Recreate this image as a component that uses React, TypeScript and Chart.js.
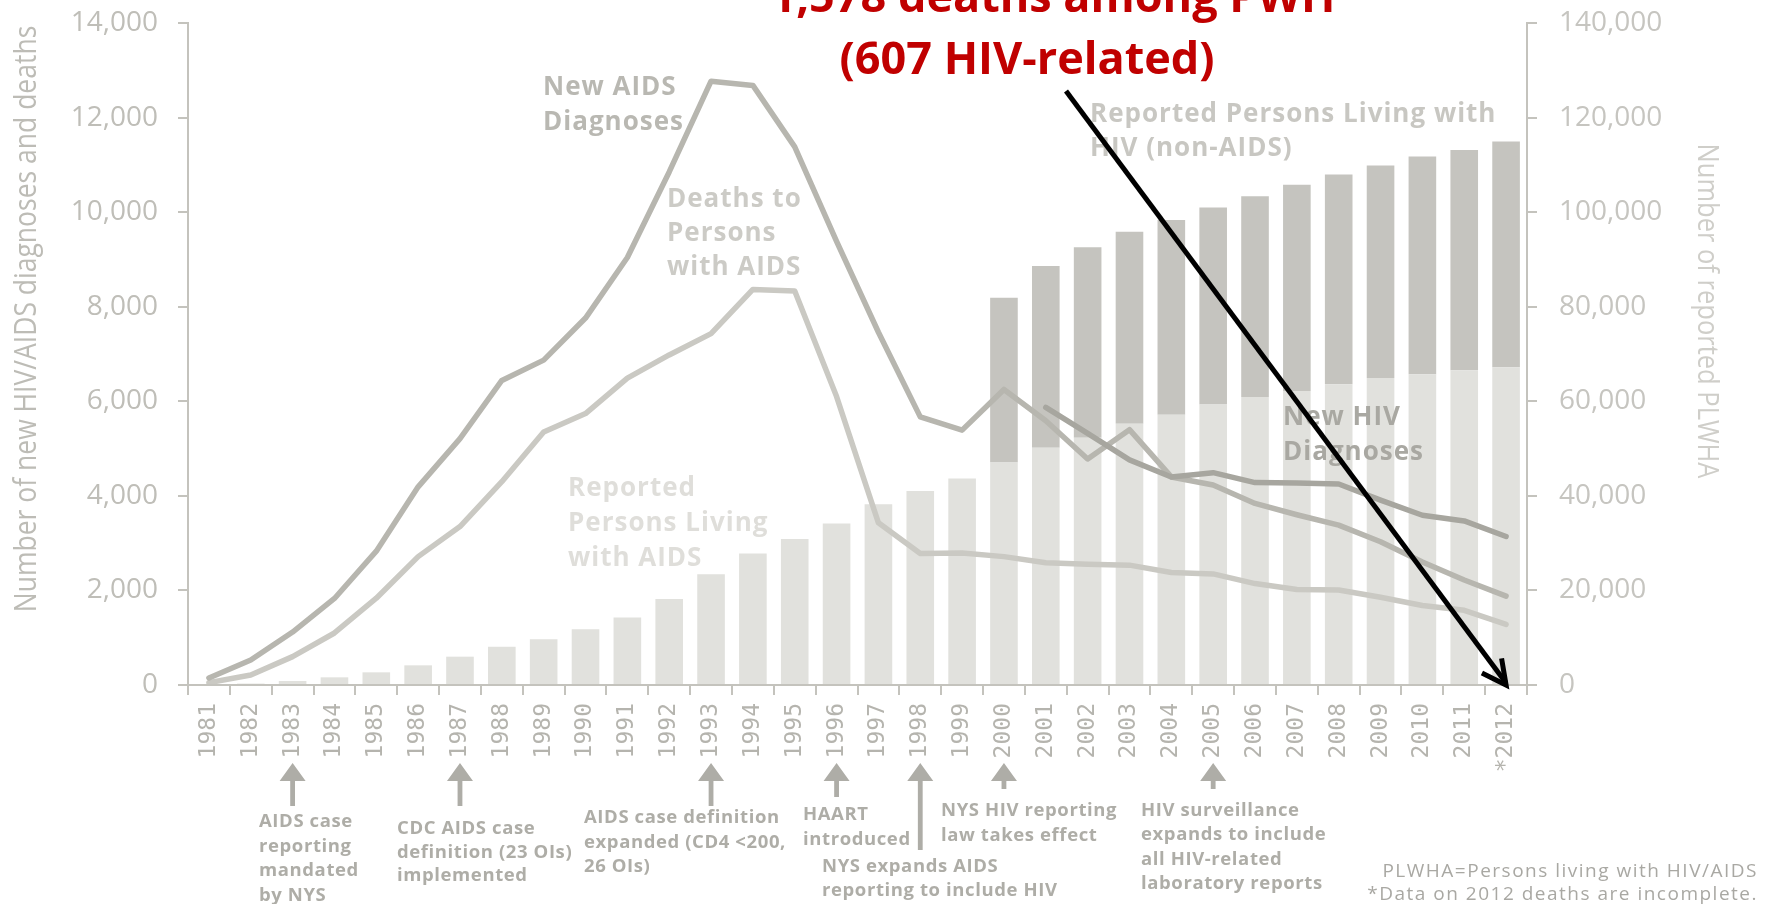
import React, { useEffect, useRef } from 'react';
import { Chart, registerables } from 'chart.js';

Chart.register(...registerables);

// ---------- DATA ----------
const years = [
  '1981', '1982', '1983', '1984', '1985', '1986', '1987', '1988', '1989', '1990',
  '1991', '1992', '1993', '1994', '1995', '1996', '1997', '1998', '1999', '2000',
  '2001', '2002', '2003', '2004', '2005', '2006', '2007', '2008', '2009', '2010',
  '2011', '*2012',
];

const newAidsDiagnoses = [
  150, 530, 1120, 1830, 2830, 4190, 5210, 6440, 6870, 7760,
  9040, 10850, 12770, 12680, 11380, 9380, 7460, 5670, 5390, 6250,
  5590, 4780, 5400, 4400, 4230, 3840, 3600, 3380, 3030, 2600,
  2220, 1880,
];

const deathsPersonsWithAids = [
  50, 210, 600, 1100, 1835, 2715, 3350, 4300, 5350, 5740,
  6490, 6980, 7430, 8365, 8330, 6100, 3430, 2780, 2790, 2715,
  2585, 2555, 2535, 2380, 2350, 2145, 2020, 2010, 1855, 1680,
  1580, 1280,
];

const newHivDiagnoses = [
  null, null, null, null, null, null, null, null, null, null,
  null, null, null, null, null, null, null, null, null, null,
  5870, 5320, 4760, 4400, 4490, 4280, 4270, 4250, 3910, 3590,
  3470, 3140,
];

const personsLivingWithAids = [
  50, 300, 850, 1620, 2680, 4160, 5990, 8100, 9650, 11770,
  14250, 18170, 23440, 27800, 30850, 34170, 38200, 41050, 43650, 47080,
  50180, 52280, 55250, 57150, 59320, 60920, 62200, 63580, 64950, 65730,
  66580, 67200,
];

const personsLivingWithHivNonAids = [
  null, null, null, null, null, null, null, null, null, null,
  null, null, null, null, null, null, null, null, null, 34820,
  38420, 40320, 40600, 41200, 41680, 42460, 43600, 44400, 44920, 46050,
  46570, 47750,
];

const leftAxisTitle = 'Number of new HIV/AIDS diagnoses and deaths';
const rightAxisTitle = 'Number of reported PLWHA';
const headlineLines = ['1,578 deaths among PWH', '(607 HIV-related)'];

const seriesLabels = {
  newAids: ['New AIDS', 'Diagnoses'],
  deaths: ['Deaths to', 'Persons', 'with AIDS'],
  plwa: ['Reported', 'Persons Living', 'with AIDS'],
  plwh: ['Reported Persons Living with', 'HIV (non-AIDS)'],
  newHiv: ['New HIV', 'Diagnoses'],
};

const eventYears = ['1983', '1987', '1993', '1996', '1998', '2000', '2005'];
const eventTexts = [
  ['AIDS case', 'reporting', 'mandated', 'by NYS'],
  ['CDC AIDS case', 'definition (23 OIs)', 'implemented'],
  ['AIDS case definition', 'expanded (CD4 <200,', '26 OIs)'],
  ['HAART', 'introduced'],
  ['NYS expands AIDS', 'reporting to include HIV'],
  ['NYS HIV reporting', 'law takes effect'],
  ['HIV surveillance', 'expands to include', 'all HIV-related', 'laboratory reports'],
];
const footnoteLines = ['PLWHA=Persons living with HIV/AIDS', '*Data on 2012 deaths are incomplete.'];

// ---------- STYLE ----------
const SANS = '"Open Sans", "Noto Sans", "DejaVu Sans", sans-serif';
const MONO = '"DejaVu Sans Mono", "Liberation Mono", monospace';
const AXIS = '#c4c3bd';

// layout of annotations (pixel positions)
const labelPos = {
  newAids: { x: 543, y: 95, lh: 35, color: '#b9b8b2' },
  deaths: { x: 667, y: 207, lh: 34, color: '#cccbc6' },
  plwa: { x: 568, y: 496, lh: 35, color: '#dfdeda' },
  plwh: { x: 1090, y: 122, lh: 34, color: '#c8c7c2' },
  newHiv: { x: 1283, y: 425, lh: 35, color: '#a9a8a2' },
};
const eventArrowBottoms = [806, 806, 806, 797, 850, 789, 789];
const eventTextPos = [
  { x: 259, y: 827, lh: 24.5 },
  { x: 397, y: 834, lh: 23.5 },
  { x: 584, y: 823, lh: 24.5 },
  { x: 803, y: 820, lh: 25 },
  { x: 822, y: 872, lh: 24 },
  { x: 941, y: 816, lh: 25 },
  { x: 1141, y: 816, lh: 24.3 },
];

function drawLines(
  ctx: CanvasRenderingContext2D,
  lines: string[],
  x: number,
  y: number,
  lh: number,
  font: string,
  color: string,
  align: CanvasTextAlign = 'left',
  spacing = '0px',
) {
  ctx.font = font;
  ctx.fillStyle = color;
  ctx.textAlign = align;
  ctx.textBaseline = 'alphabetic';
  (ctx as any).letterSpacing = spacing;
  lines.forEach((l, i) => ctx.fillText(l, x, y + i * lh));
  (ctx as any).letterSpacing = '0px';
}

function upArrow(ctx: CanvasRenderingContext2D, x: number, tipY: number, bottomY: number) {
  const headH = 18;
  const headW = 13;
  const shaft = 2.4;
  ctx.beginPath();
  ctx.moveTo(x, tipY);
  ctx.lineTo(x + headW, tipY + headH);
  ctx.lineTo(x + shaft, tipY + headH);
  ctx.lineTo(x + shaft, bottomY);
  ctx.lineTo(x - shaft, bottomY);
  ctx.lineTo(x - shaft, tipY + headH);
  ctx.lineTo(x - headW, tipY + headH);
  ctx.closePath();
  ctx.fill();
}

const annotationPlugin = {
  id: 'hivAnnotations',
  afterDatasetsDraw(chart: any) {
    const ctx: CanvasRenderingContext2D = chart.ctx;
    ctx.save();
    const f = `bold 26px ${SANS}`;
    (Object.keys(labelPos) as (keyof typeof labelPos)[]).forEach((k) => {
      const p = labelPos[k];
      drawLines(ctx, seriesLabels[k], p.x, p.y, p.lh, f, p.color, 'left', '1px');
    });
    ctx.restore();
  },
  afterDraw(chart: any) {
    const ctx: CanvasRenderingContext2D = chart.ctx;
    const xs = chart.scales.x;
    const ys = chart.scales.y;
    ctx.save();

    // axis titles
    ctx.font = `26.5px ${SANS}`;
    ctx.textAlign = 'center';
    ctx.textBaseline = 'middle';
    ctx.save();
    ctx.translate(27, 319);
    ctx.rotate(-Math.PI / 2);
    ctx.scale(1, 1.15);
    ctx.fillStyle = '#bdbcb6';
    ctx.fillText(leftAxisTitle, 0, 0);
    ctx.restore();
    ctx.font = `25.5px ${SANS}`;
    ctx.save();
    ctx.translate(1706, 311);
    ctx.rotate(Math.PI / 2);
    ctx.scale(1, 1.15);
    ctx.fillStyle = '#cfcec9';
    ctx.fillText(rightAxisTitle, 0, 0);
    ctx.restore();

    // event arrows & texts under the x axis
    eventYears.forEach((yr, i) => {
      const idx = years.indexOf(yr);
      const x = xs.getPixelForValue(idx);
      ctx.fillStyle = '#aeada7';
      upArrow(ctx, x, 763, eventArrowBottoms[i]);
      const p = eventTextPos[i];
      drawLines(ctx, eventTexts[i], p.x, p.y, p.lh, `bold 18.5px ${SANS}`, '#aeada7', 'left', '0.6px');
    });

    // footnote
    drawLines(ctx, footnoteLines, 1758, 877, 23, `19px ${SANS}`, '#a9a8a3', 'right', '1.5px');

    // red headline
    ctx.font = `bold 45px ${SANS}`;
    ctx.fillStyle = '#c00000';
    ctx.textAlign = 'center';
    ctx.textBaseline = 'alphabetic';
    ctx.fillText(headlineLines[0], 1053, 12);
    ctx.fillText(headlineLines[1], 1027, 74);

    // black arrow pointing to 2012 deaths
    const tipX = xs.getPixelForValue(years.length - 1);
    const tipY = ys.getPixelForValue(0);
    const sx = 1066;
    const sy = 91;
    ctx.strokeStyle = '#000';
    ctx.lineWidth = 5;
    ctx.lineCap = 'butt';
    ctx.lineJoin = 'miter';
    ctx.beginPath();
    ctx.moveTo(sx, sy);
    ctx.lineTo(tipX, tipY - 2);
    ctx.stroke();
    const ang = Math.atan2(tipY - sy, tipX - sx);
    const L = 27;
    const a1 = ang + Math.PI - 0.47;
    const a2 = ang + Math.PI + 0.47;
    ctx.beginPath();
    ctx.moveTo(tipX + L * Math.cos(a1), tipY + L * Math.sin(a1));
    ctx.lineTo(tipX, tipY);
    ctx.lineTo(tipX + L * Math.cos(a2), tipY + L * Math.sin(a2));
    ctx.stroke();

    ctx.restore();
  },
};

const fmt = (v: any) => Number(v).toLocaleString('en-US');

export default function App() {
  const ref = useRef<HTMLCanvasElement>(null);

  useEffect(() => {
    const canvas = ref.current;
    if (!canvas) return;
    const lineCommon = {
      type: 'line' as const,
      yAxisID: 'y',
      pointRadius: 0,
      borderWidth: 5.5,
      tension: 0,
      fill: false,
      borderJoinStyle: 'round' as const,
      borderCapStyle: 'round' as const,
      spanGaps: false,
    };
    const chart = new Chart(canvas, {
      type: 'bar',
      data: {
        labels: years,
        datasets: [
          {
            ...lineCommon,
            label: 'New HIV Diagnoses',
            data: newHivDiagnoses as any,
            borderColor: '#a7a69f',
            order: 1,
          },
          {
            ...lineCommon,
            label: 'New AIDS Diagnoses',
            data: newAidsDiagnoses,
            borderColor: '#b7b6af',
            order: 2,
          },
          {
            ...lineCommon,
            label: 'Deaths to Persons with AIDS',
            data: deathsPersonsWithAids,
            borderColor: '#cac9c3',
            order: 3,
          },
          {
            type: 'bar',
            label: 'Reported Persons Living with AIDS',
            data: personsLivingWithAids,
            yAxisID: 'y2',
            backgroundColor: '#e1e1dd',
            borderWidth: 0,
            barPercentage: 0.66,
            categoryPercentage: 1,
            order: 10,
          },
          {
            type: 'bar',
            label: 'Reported Persons Living with HIV (non-AIDS)',
            data: personsLivingWithHivNonAids as any,
            yAxisID: 'y2',
            backgroundColor: '#c5c4bf',
            borderWidth: 0,
            barPercentage: 0.66,
            categoryPercentage: 1,
            order: 11,
          },
        ] as any,
      },
      options: {
        responsive: false,
        animation: false,
        devicePixelRatio: 1,
        layout: { padding: { top: 23, left: 0, right: 0, bottom: 0 } },
        plugins: {
          legend: { display: false },
          tooltip: { enabled: false },
        },
        scales: {
          x: {
            stacked: true,
            offset: true,
            grid: {
              offset: true,
              drawOnChartArea: false,
              drawTicks: true,
              tickLength: 10,
              color: AXIS,
              lineWidth: 2,
            },
            border: { display: true, color: AXIS, width: 2, z: 1 },
            ticks: {
              autoSkip: false,
              maxRotation: 90,
              minRotation: 90,
              padding: 8,
              color: '#b5b4ae',
              font: { family: MONO, size: 23 },
            },
            afterFit: (s: any) => {
              s.height = 219;
              s.paddingLeft = 0;
              s.paddingRight = 0;
            },
          },
          y: {
            position: 'left',
            min: 0,
            max: 14000,
            grid: {
              drawOnChartArea: false,
              drawTicks: true,
              tickLength: 10,
              color: AXIS,
              lineWidth: 2,
            },
            border: { display: true, color: AXIS, width: 2, z: 1 },
            ticks: {
              stepSize: 2000,
              padding: 20,
              color: '#bfbeb8',
              font: { family: SANS, size: 28 },
              callback: fmt,
            },
            afterFit: (s: any) => {
              s.width = 188;
              s.paddingTop = 0;
              s.paddingBottom = 0;
            },
          },
          y2: {
            position: 'right',
            stacked: true,
            min: 0,
            max: 140000,
            grid: {
              drawOnChartArea: false,
              drawTicks: true,
              tickLength: 10,
              color: AXIS,
              lineWidth: 2,
            },
            border: { display: true, color: AXIS, width: 2, z: 1 },
            ticks: {
              stepSize: 20000,
              padding: 22,
              color: '#c6c5c0',
              font: { family: SANS, size: 28 },
              callback: fmt,
            },
            afterFit: (s: any) => {
              s.width = 245;
              s.paddingTop = 0;
              s.paddingBottom = 0;
            },
          },
        },
      } as any,
      plugins: [annotationPlugin],
    });
    return () => chart.destroy();
  }, []);

  return (
    <div style={{ position: 'fixed', left: 0, top: 0, width: 1772, height: 904, background: '#ffffff' }}>
      <canvas ref={ref} width={1772} height={904} style={{ display: 'block', width: 1772, height: 904 }} />
    </div>
  );
}
